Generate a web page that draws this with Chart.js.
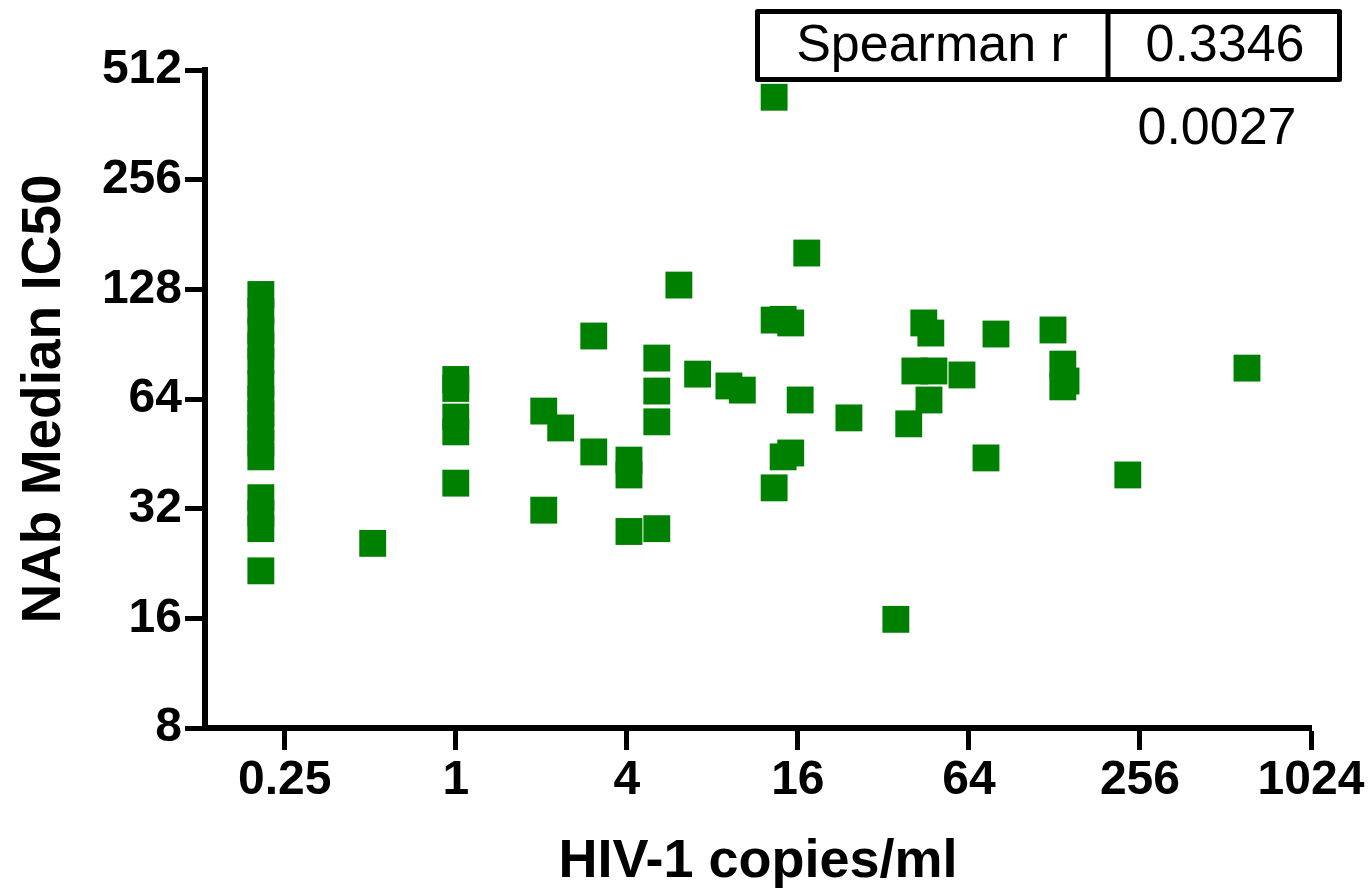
<!DOCTYPE html>
<html>
<head>
<meta charset="utf-8">
<script src="https://cdn.jsdelivr.net/npm/chart.js@4.4.1/dist/chart.umd.min.js"></script>
<style>
  html, body { margin: 0; background: #fff; }
</style>
</head>
<body>
<canvas id="scatter" width="1370" height="896"></canvas>
<script>
// one entry per subject: viral load (x) and NAb median IC50 (y)
const copies = [
    0.206, 0.206, 0.206, 0.206, 0.206, 0.206, 0.206, 0.206, 0.206, 0.206, 0.206, 0.206, 0.206, 0.206, 0.206,
    0.51,
    1, 1, 1, 1, 1,
    2.04, 2.04,
    2.34,
    3.06, 3.06,
    4.07, 4.07, 4.07,
    5.1, 5.1, 5.1, 5.1,
    6.1, 7.1, 9.15, 10.2,
    13.2, 13.2, 13.2,
    14.2, 14.2,
    15.1, 15.1,
    16.3, 17.2, 24.2, 35.4, 39.3, 41.3, 44.4, 46.3, 47, 48.2, 60.5, 73.5, 79.7, 126.5, 137, 137, 140.6, 232, 609.5
];
const ic50 = [
    123.9, 111.6, 98.4, 89.5, 81.4, 70.4, 64, 58.2, 53.3, 48.4, 44.4, 34.3, 31.1, 28.2, 21.6,
    25.7,
    72.4, 68.4, 57.1, 52, 37.6,
    59.3, 31.7,
    53.3,
    95.3, 45.8,
    43.5, 39.6, 27.7,
    82.9, 67.3, 55.4, 28.2,
    131.5, 74.9, 69.5, 67.7,
    105.4, 36.5, 431,
    105.9, 44.4,
    103.5, 45.5,
    63.6, 161, 56.8, 15.9, 54.7, 76.4, 103.5, 63.6, 97.1, 76.4, 74.5, 44.1, 96.5, 99, 79.8, 69.1, 71.7, 39.6, 77.8
];
const xTicks = [0.25, 1, 4, 16, 64, 256, 1024];
const yTicks = [8, 16, 32, 64, 128, 256, 512];
const spearmanR = "0.3346";
const pValue = "0.0027";

const FONT = "'Liberation Sans', Arial, sans-serif";

// small results table in the top right corner
const statsBox = {
    id: "statsBox",
    afterDraw(chart) {
        const ctx = chart.ctx;
        ctx.save();
        ctx.strokeStyle = "#000";
        ctx.lineWidth = 5;
        ctx.lineJoin = "round";
        ctx.strokeRect(757.5, 11.5, 582, 68);
        ctx.beginPath();
        ctx.moveTo(1108, 11.5);
        ctx.lineTo(1108, 79.5);
        ctx.stroke();
        ctx.fillStyle = "#000";
        ctx.font = "52px " + FONT;
        ctx.textAlign = "center";
        ctx.textBaseline = "middle";
        ctx.fillText("Spearman r", 932, 47);
        ctx.fillText(spearmanR, 1225, 47);
        ctx.fillText(pValue, 1217, 130);
        ctx.restore();
    }
};

new Chart(document.getElementById("scatter"), {
    type: "scatter",
    data: {
        datasets: [{
            data: copies.map((x, i) => ({ x: x, y: ic50[i] })),
            pointStyle: "rect",
            pointRadius: 19,
            pointHoverRadius: 19,
            borderWidth: 0,
            backgroundColor: "#008000"
        }]
    },
    options: {
        responsive: false,
        animation: false,
        layout: { padding: { top: 70, right: 59, left: 0, bottom: 0 } },
        plugins: {
            legend: { display: false },
            tooltip: { enabled: false }
        },
        scales: {
            x: {
                type: "logarithmic",
                min: 0.131,
                max: 1024,
                afterBuildTicks: s => { s.ticks = xTicks.map(v => ({ value: v })); },
                afterFit: s => { s.height = 168; },
                grid: { display: true, drawOnChartArea: false, drawTicks: true, tickLength: 22, tickWidth: 5, tickColor: "#000" },
                border: { display: true, color: "#000", width: 6 },
                ticks: {
                    color: "#000",
                    padding: 2,
                    maxRotation: 0,
                    autoSkip: false,
                    font: { family: FONT, size: 48, weight: "bold" },
                    callback: v => String(v)
                },
                title: {
                    display: true,
                    text: "HIV-1 copies/ml",
                    color: "#000",
                    font: { family: FONT, size: 54, weight: "bold" },
                    padding: { top: 0, bottom: 1 }
                }
            },
            y: {
                type: "logarithmic",
                min: 8,
                max: 512,
                afterBuildTicks: s => { s.ticks = yTicks.map(v => ({ value: v })); },
                afterFit: s => { s.width = 205; },
                grid: { display: true, drawOnChartArea: false, drawTicks: true, tickLength: 20, tickWidth: 5, tickColor: "#000" },
                border: { display: true, color: "#000", width: 6 },
                ticks: {
                    color: "#000",
                    padding: 3,
                    autoSkip: false,
                    font: { family: FONT, size: 48, weight: "bold" },
                    callback: v => String(v)
                },
                title: {
                    display: true,
                    text: "NAb Median IC50",
                    color: "#000",
                    font: { family: FONT, size: 55, weight: "bold" },
                    padding: { top: 12, bottom: 0 }
                }
            }
        }
    },
    plugins: [statsBox]
});
</script>
</body>
</html>
